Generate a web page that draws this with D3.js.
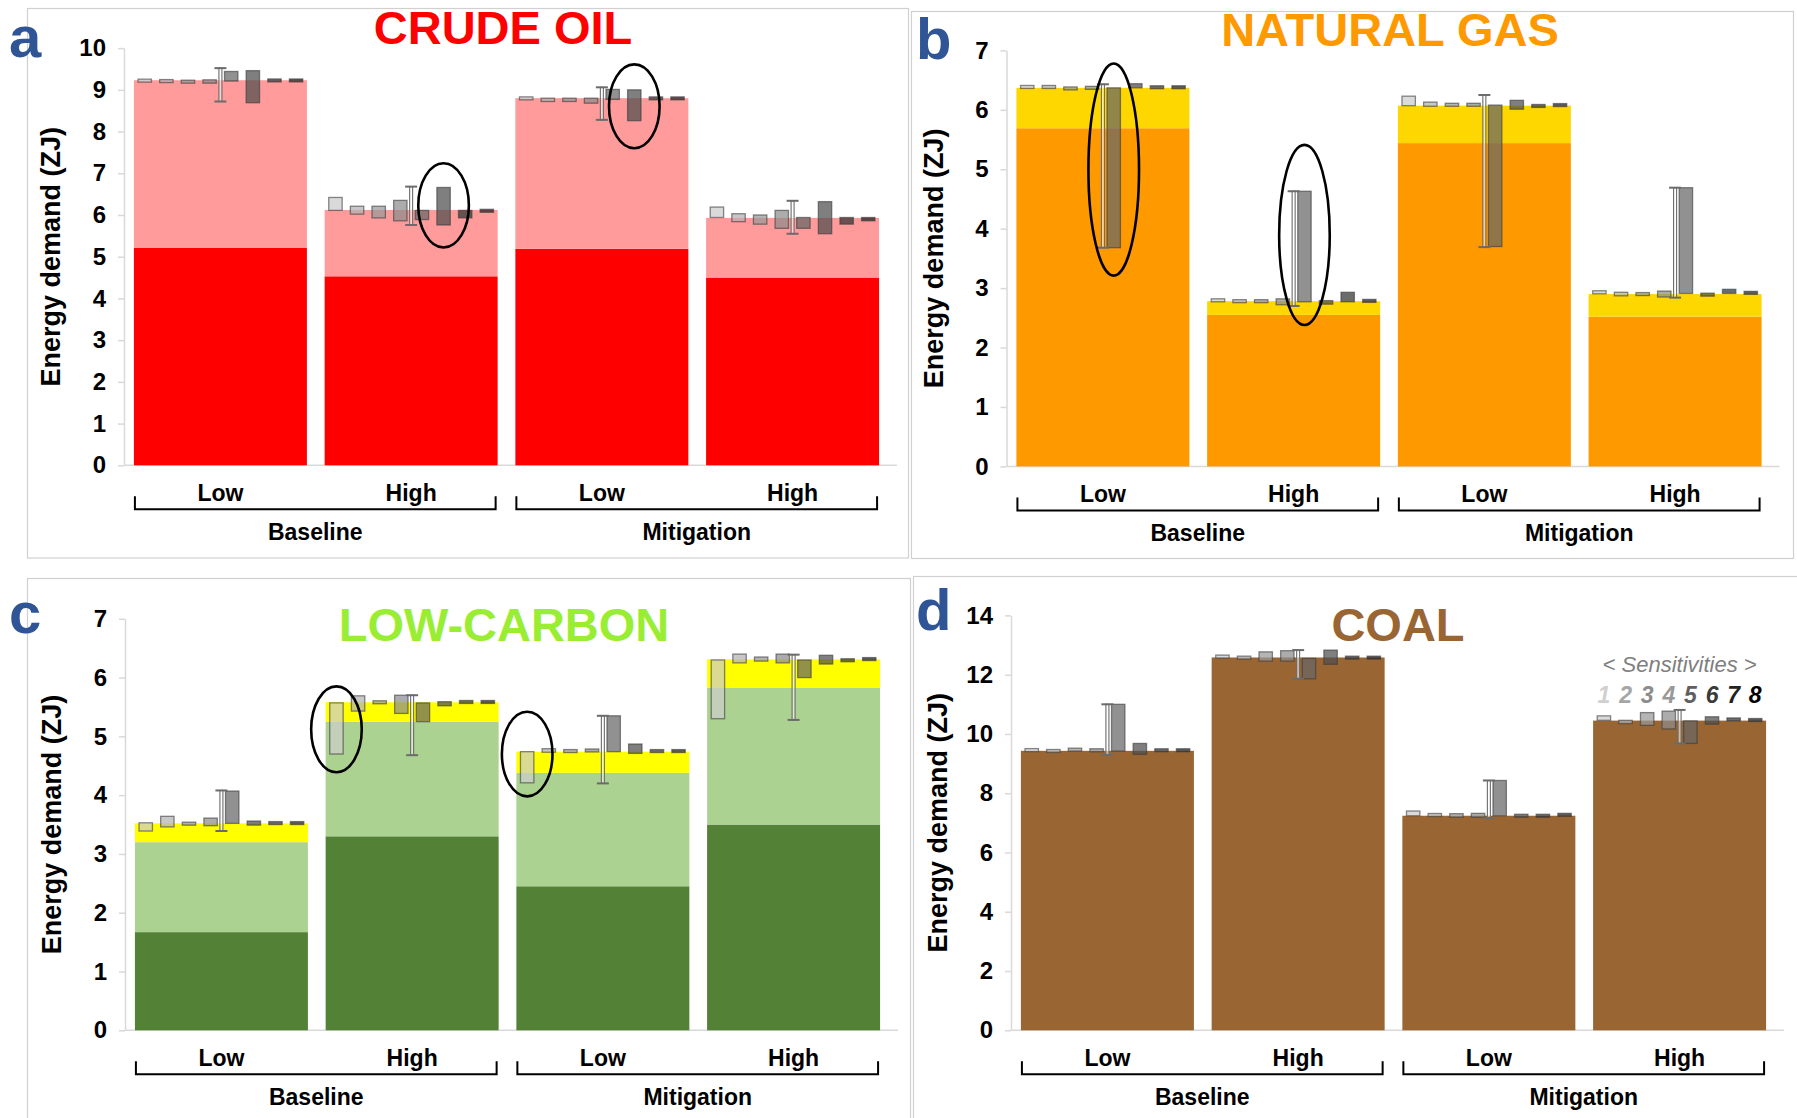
<!DOCTYPE html>
<html>
<head>
<meta charset="utf-8">
<script src="https://cdn.jsdelivr.net/npm/d3@7"></script>
<style>
  body { margin: 0; background: #ffffff; }
  svg { display: block; }
</style>
</head>
<body>
<svg id="chart" width="1797" height="1118"></svg>
<script>
// ---------- data (ZJ) ----------
const categories = ["Low", "High", "Low", "High"];
const scenarioGroups = ["Baseline", "Mitigation"];
const sensitivityLabels = ["1", "2", "3", "4", "5", "6", "7", "8"];

// stacked segments, one value per bar (Baseline Low, Baseline High, Mitigation Low, Mitigation High)
const oilDark  = [5.21, 4.53, 5.19, 4.50];
const oilLight = [4.02, 1.59, 3.61, 1.43];
const gasMain  = [5.69, 2.55, 5.44, 2.52];
const gasTop   = [0.68, 0.23, 0.63, 0.38];
const lowCarbonDark  = [1.67, 3.30, 2.45, 3.50];
const lowCarbonLight = [1.53, 1.95, 1.93, 2.33];
const lowCarbonTop   = [0.32, 0.33, 0.36, 0.48];
const coalTotal = [9.43, 12.58, 7.24, 10.45];

// sensitivity runs 1-8 per bar: [low, high] of each floating bar
const oilSens = [
  [[9.20,9.24],[9.18,9.24],[9.18,9.21],[9.16,9.24],[9.21,9.44],[8.69,9.46],[9.21,9.24],[9.21,9.24]],
  [[6.11,6.42],[6.02,6.21],[5.93,6.21],[5.86,6.35],[5.89,6.11],[5.76,6.66],[5.93,6.11],[6.08,6.12]],
  [[8.77,8.82],[8.72,8.80],[8.72,8.80],[8.68,8.80],[8.77,9.01],[8.26,9.00],[8.78,8.81],[8.78,8.81]],
  [[5.94,6.19],[5.84,6.03],[5.78,6.00],[5.68,6.11],[5.68,5.94],[5.55,6.32],[5.78,5.94],[5.86,5.94]]
];
const gasSens = [
  [[6.37,6.40],[6.37,6.40],[6.35,6.37],[6.36,6.38],[3.68,6.37],[6.37,6.44],[6.37,6.39],[6.37,6.39]],
  [[2.78,2.81],[2.76,2.80],[2.76,2.80],[2.72,2.82],[2.77,4.63],[2.73,2.79],[2.77,2.93],[2.77,2.80]],
  [[6.07,6.23],[6.06,6.13],[6.06,6.11],[6.06,6.11],[3.70,6.08],[6.01,6.16],[6.05,6.08],[6.07,6.09]],
  [[2.91,2.95],[2.87,2.93],[2.89,2.91],[2.85,2.95],[2.91,4.69],[2.87,2.91],[2.91,2.98],[2.91,2.93]]
];
const lowCarbonSens = [
  [[3.39,3.53],[3.46,3.64],[3.49,3.54],[3.48,3.61],[3.52,4.07],[3.49,3.56],[3.51,3.54],[3.51,3.54]],
  [[4.70,5.57],[5.43,5.69],[5.56,5.60],[5.39,5.70],[5.25,5.57],[5.52,5.59],[5.57,5.60],[5.57,5.60]],
  [[4.21,4.74],[4.73,4.79],[4.73,4.77],[4.74,4.78],[4.74,5.35],[4.71,4.87],[4.73,4.77],[4.73,4.77]],
  [[5.30,6.30],[6.25,6.40],[6.28,6.35],[6.25,6.40],[6.00,6.30],[6.23,6.38],[6.28,6.31],[6.30,6.33]]
];
const coalSens = [
  [[9.43,9.48],[9.40,9.45],[9.43,9.51],[9.42,9.48],[9.42,11.00],[9.31,9.68],[9.43,9.47],[9.43,9.47]],
  [[12.56,12.66],[12.55,12.60],[12.46,12.77],[12.46,12.81],[11.86,12.55],[12.35,12.83],[12.55,12.60],[12.55,12.60]],
  [[7.24,7.40],[7.24,7.29],[7.19,7.31],[7.19,7.32],[7.24,8.43],[7.22,7.26],[7.22,7.26],[7.25,7.29]],
  [[10.46,10.61],[10.35,10.46],[10.29,10.72],[10.17,10.77],[9.68,10.44],[10.33,10.58],[10.44,10.54],[10.44,10.50]]
];

// model range (whiskers) per bar
const oilRange       = [[8.72,9.52],[5.76,6.68],[8.28,9.06],[5.55,6.34]];
const gasRange       = [[3.68,6.43],[2.70,4.63],[3.69,6.25],[2.84,4.69]];
const lowCarbonRange = [[3.39,4.08],[4.68,5.70],[4.20,5.35],[5.28,6.39]];
const coalRange      = [[9.29,11.00],[11.86,12.83],[7.16,8.43],[9.68,10.81]];

// highlighted sensitivity runs: bar index, run index, value span
const oilHighlights       = [{bar: 1, run: 5, lo: 5.22, hi: 7.24}, {bar: 2, run: 5, lo: 7.60, hi: 9.61}];
const gasHighlights       = [{bar: 0, run: 4, lo: 3.21, hi: 6.78}, {bar: 1, run: 4, lo: 2.38, hi: 5.41}];
const lowCarbonHighlights = [{bar: 1, run: 0, lo: 4.39, hi: 5.85}, {bar: 2, run: 0, lo: 3.98, hi: 5.42}];

// axis tick values
const oilTicks = [0, 1, 2, 3, 4, 5, 6, 7, 8, 9, 10];
const gasTicks = [0, 1, 2, 3, 4, 5, 6, 7];
const lowCarbonTicks = [0, 1, 2, 3, 4, 5, 6, 7];
const coalTicks = [0, 2, 4, 6, 8, 10, 12, 14];

// ---------- styling ----------
const FONT = '"Liberation Sans", Arial, Helvetica, sans-serif';
const sensFill = ["#cccccc", "#b3b3b3", "#999999", "#8c8c8c", "#666666", "#4d4d4d", "#333333", "#1f1f1f"];
const legendInk = ["#d0d0d0", "#a6a6a6", "#8c8c8c", "#999999", "#5f5f5f", "#3a3a3a", "#222222", "#000000"];
const letterBlue = "#2f5597";

const panels = [
  {
    letter: "a", letterPos: [9, 57], title: "CRUDE OIL", titleColor: "#ff0000", titlePos: [503, 44],
    frame: [27.5, 8.5, 881, 549.5],
    xRange: [124, 889], yRange: [465.3, 48.1], yMax: 10, ticks: oilTicks,
    layers: [{values: oilDark, color: "#ff0000"}, {values: oilLight, color: "#ff9b9b"}],
    sens: oilSens, range: oilRange, highlights: oilHighlights
  },
  {
    letter: "b", letterPos: [916, 59], title: "NATURAL GAS", titleColor: "#ff9900", titlePos: [1390, 46],
    frame: [911.5, 11.5, 882, 547],
    xRange: [1006.5, 1771.5], yRange: [466.4, 50.4], yMax: 7, ticks: gasTicks,
    layers: [{values: gasMain, color: "#ff9900"}, {values: gasTop, color: "#ffd700"}],
    sens: gasSens, range: gasRange, highlights: gasHighlights
  },
  {
    letter: "c", letterPos: [9, 633], title: "LOW-CARBON", titleColor: "#99ee33", titlePos: [504, 641],
    frame: [27.5, 578.5, 883, 560],
    xRange: [125, 890], yRange: [1030.3, 618.8], yMax: 7, ticks: lowCarbonTicks,
    layers: [{values: lowCarbonDark, color: "#538135"}, {values: lowCarbonLight, color: "#acd291"},
             {values: lowCarbonTop, color: "#ffff00"}],
    sens: lowCarbonSens, range: lowCarbonRange, highlights: lowCarbonHighlights
  },
  {
    letter: "d", letterPos: [916, 630], title: "COAL", titleColor: "#996633", titlePos: [1398, 641],
    frame: [913.5, 576.5, 890, 560],
    xRange: [1011, 1776], yRange: [1030.3, 615.4], yMax: 14, ticks: coalTicks,
    layers: [{values: coalTotal, color: "#996633"}],
    sens: coalSens, range: coalRange, highlights: [], legend: true
  }
];

const svg = d3.select("#chart");
svg.append("rect").attr("width", 1797).attr("height", 1118).attr("fill", "#ffffff");

function drawPanel(p) {
  const g = svg.append("g");

  // panel frame
  g.append("rect")
    .attr("x", p.frame[0]).attr("y", p.frame[1])
    .attr("width", p.frame[2]).attr("height", p.frame[3])
    .attr("fill", "none").attr("stroke", "#d0d0d0").attr("stroke-width", 1.2);

  const x = d3.scaleBand().domain(d3.range(categories.length))
    .range(p.xRange).paddingInner(0.093).paddingOuter(0.052);
  const y = d3.scaleLinear().domain([0, p.yMax]).range(p.yRange);
  const bw = x.bandwidth();
  const slot = bw / sensitivityLabels.length;
  const y0 = y(0);

  // y axis
  const axis = d3.axisLeft(y).tickValues(p.ticks).tickSize(6).tickSizeOuter(0).tickPadding(12)
    .tickFormat(d3.format("d"));
  const ax = g.append("g").attr("transform", `translate(${p.xRange[0]},0)`).call(axis);
  ax.select(".domain").attr("stroke", "#d9d9d9").attr("stroke-width", 1.5);
  ax.selectAll(".tick line").attr("stroke", "#d9d9d9").attr("stroke-width", 1.5);
  ax.selectAll(".tick text")
    .attr("font-family", FONT).attr("font-size", 24).attr("font-weight", "bold").attr("fill", "#000");

  // zero line
  g.append("line")
    .attr("x1", p.xRange[0]).attr("x2", p.xRange[1] + 8)
    .attr("y1", y0).attr("y2", y0)
    .attr("stroke", "#d9d9d9").attr("stroke-width", 1.5);

  // stacked bars
  const keys = p.layers.map((l, i) => "s" + i);
  const rows = categories.map((c, i) => {
    const r = {idx: i};
    p.layers.forEach((l, k) => { r[keys[k]] = l.values[i]; });
    return r;
  });
  const stacked = d3.stack().keys(keys)(rows);
  stacked.forEach((series, k) => {
    g.append("g").selectAll("rect").data(series).join("rect")
      .attr("x", d => x(d.data.idx))
      .attr("width", bw)
      .attr("y", d => y(d[1]))
      .attr("height", d => y(d[0]) - y(d[1]))
      .attr("fill", p.layers[k].color);
  });

  // sensitivity runs (floating bars)
  const sw = slot * 0.62;
  p.sens.forEach((runs, b) => {
    runs.forEach((r, i) => {
      const cx = x(b) + (i + 0.5) * slot;
      let top = y(r[1]), bot = y(r[0]);
      if (bot - top < 3) { const m = (top + bot) / 2; top = m - 1.5; bot = m + 1.5; }
      g.append("rect")
        .attr("x", cx - sw / 2).attr("width", sw)
        .attr("y", top).attr("height", bot - top)
        .attr("fill", sensFill[i]).attr("fill-opacity", 0.72)
        .attr("stroke", "#3a3a3a").attr("stroke-opacity", 0.6).attr("stroke-width", 1.3);
    });
  });

  // range whiskers
  p.range.forEach((r, b) => {
    const cx = x(b) + bw / 2;
    const ew = g.append("g");
    ew.append("rect")
      .attr("x", cx - 1.5).attr("width", 3)
      .attr("y", y(r[1])).attr("height", y(r[0]) - y(r[1]))
      .attr("fill", "#ffffff").attr("fill-opacity", 0.55)
      .attr("stroke", "#6b6b6b").attr("stroke-width", 1.1);
    [r[0], r[1]].forEach(v => {
      ew.append("line")
        .attr("x1", cx - 6).attr("x2", cx + 6)
        .attr("y1", y(v)).attr("y2", y(v))
        .attr("stroke", "#6b6b6b").attr("stroke-width", 2);
    });
  });

  // highlight rings
  p.highlights.forEach(h => {
    g.append("ellipse")
      .attr("cx", x(h.bar) + (h.run + 0.5) * slot)
      .attr("cy", y((h.lo + h.hi) / 2))
      .attr("rx", slot * 1.17)
      .attr("ry", (y(h.lo) - y(h.hi)) / 2)
      .attr("fill", "none").attr("stroke", "#000").attr("stroke-width", 2.6);
  });

  // category labels
  g.append("g").selectAll("text").data(categories).join("text")
    .attr("x", (d, i) => x(i) + bw / 2)
    .attr("y", y0 + 36)
    .attr("text-anchor", "middle")
    .attr("font-family", FONT).attr("font-size", 23).attr("font-weight", "bold")
    .text(d => d);

  // scenario brackets and names
  scenarioGroups.forEach((name, gi) => {
    const a = x(gi * 2) + 1, bEnd = x(gi * 2 + 1) + bw - 2;
    g.append("path")
      .attr("d", `M${a},${y0 + 31}V${y0 + 44}H${bEnd}V${y0 + 31}`)
      .attr("fill", "none").attr("stroke", "#000").attr("stroke-width", 2);
    g.append("text")
      .attr("x", (a + bEnd) / 2).attr("y", y0 + 75)
      .attr("text-anchor", "middle")
      .attr("font-family", FONT).attr("font-size", 23).attr("font-weight", "bold")
      .text(name);
  });

  // y axis title
  const ty = (p.yRange[0] + p.yRange[1]) / 2;
  g.append("text")
    .attr("transform", `translate(${p.xRange[0] - 64},${ty}) rotate(-90)`)
    .attr("text-anchor", "middle")
    .attr("font-family", FONT).attr("font-size", 27).attr("font-weight", "bold")
    .text("Energy demand (ZJ)");

  // panel title and letter
  g.append("text")
    .attr("x", p.titlePos[0]).attr("y", p.titlePos[1])
    .attr("text-anchor", "middle")
    .attr("font-family", FONT).attr("font-size", 47).attr("font-weight", "bold")
    .attr("fill", p.titleColor)
    .text(p.title);
  g.append("text")
    .attr("x", p.letterPos[0]).attr("y", p.letterPos[1])
    .attr("font-family", FONT).attr("font-size", 58).attr("font-weight", "bold")
    .attr("fill", letterBlue)
    .text(p.letter);

  // sensitivity key, set above the last bar
  if (p.legend) {
    const b = categories.length - 1;
    const top = p.yRange[1];
    g.append("text")
      .attr("x", x(b) + bw / 2).attr("y", top + 57)
      .attr("text-anchor", "middle")
      .attr("font-family", FONT).attr("font-size", 22).attr("font-style", "italic")
      .attr("fill", "#7f7f7f")
      .text("< Sensitivities >");
    g.append("g").selectAll("text").data(sensitivityLabels).join("text")
      .attr("x", (d, i) => x(b) + (i + 0.5) * slot)
      .attr("y", top + 88)
      .attr("text-anchor", "middle")
      .attr("font-family", FONT).attr("font-size", 23).attr("font-style", "italic")
      .attr("font-weight", "bold")
      .attr("fill", (d, i) => legendInk[i])
      .text(d => d);
  }
}

panels.forEach(drawPanel);
</script>
</body>
</html>
